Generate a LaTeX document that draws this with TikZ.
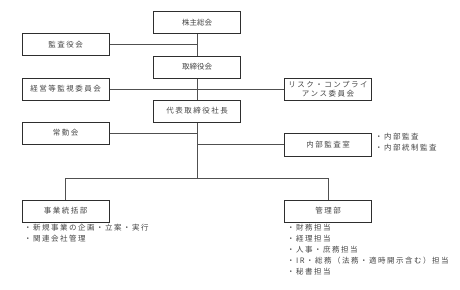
\documentclass[tikz,border=0pt]{standalone}
\usepackage{fontspec}
\newfontfamily\jpsp[LetterSpace=20]{Noto Sans CJK JP}
\newfontfamily\jpn{Noto Sans CJK JP}
\definecolor{txt}{HTML}{444444}
\definecolor{frame}{HTML}{2E2E2E}
\definecolor{conn}{HTML}{505050}
\begin{document}
\begin{tikzpicture}[x=1pt,y=-1pt,
  box/.style={draw=frame,line width=1pt,minimum width=87pt,minimum height=22pt,inner sep=0pt,
    text=txt,font=\jpsp\fontsize{7.5}{9.5}\selectfont,align=center},
  narrow/.style={font=\jpn\fontsize{7.5}{9.5}\selectfont},
  link/.style={draw=conn,line width=0.8pt},
  list/.style={anchor=north west,inner sep=0pt,text=txt,align=left,font=\jpsp\fontsize{7.5}{11}\selectfont}]
\useasboundingbox (0,0) rectangle (460,289);
\node[box,narrow] (kabu) at (197,22.5) {株主総会};
\node[box] (kansa) at (65.5,44.5) {監査役会};
\node[box,narrow] (tori) at (197,67) {取締役会};
\node[box] (keiei) at (65.5,89) {経営等監視委員会};
\node[box] (risk) at (328,89) {リスク・コンプライ\\アンス委員会};
\node[box] (daihyo) at (197,111) {代表取締役社長};
\node[box] (jokin) at (65.5,133) {常勤会};
\node[box,minimum height=23pt] (naibu) at (328,144.5) {内部監査室};
\node[box] (jigyo) at (65.5,211) {事業統括部};
\node[box] (kanri) at (328,211) {管理部};
\coordinate (split) at (197,178);
% main vertical
\draw[link] (kabu.south) -- (tori.north);
\draw[link] (tori.south) -- (daihyo.north);
\draw[link] (daihyo.south) -- (split);
% side links
\draw[link] (kansa.east) -- (kansa.east -| kabu.south);
\draw[link] (keiei.east) -- (risk.west);
\draw[link] (jokin.east) -- (jokin.east -| daihyo.south);
\draw[link] (naibu.west) -- (naibu.west -| daihyo.south);
% bottom branch
\draw[link] (split -| jigyo.north) -- (split -| kanri.north);
\draw[link] (split -| jigyo.north) -- (jigyo.north);
\draw[link] (split -| kanri.north) -- (kanri.north);
% lists
\node[list] (l1) at (375,133) {・内部監査\\・内部統制監査};
\node[list] (l2) at (24,223.5) {・新規事業の企画・立案・実行\\・関連会社管理};
\node[list] (l3) at (287,223.5) {・財務担当\\・経理担当\\・人事・庶務担当\\・IR・総務（法務・適時開示含む）担当\\・秘書担当};
\end{tikzpicture}
\end{document}
